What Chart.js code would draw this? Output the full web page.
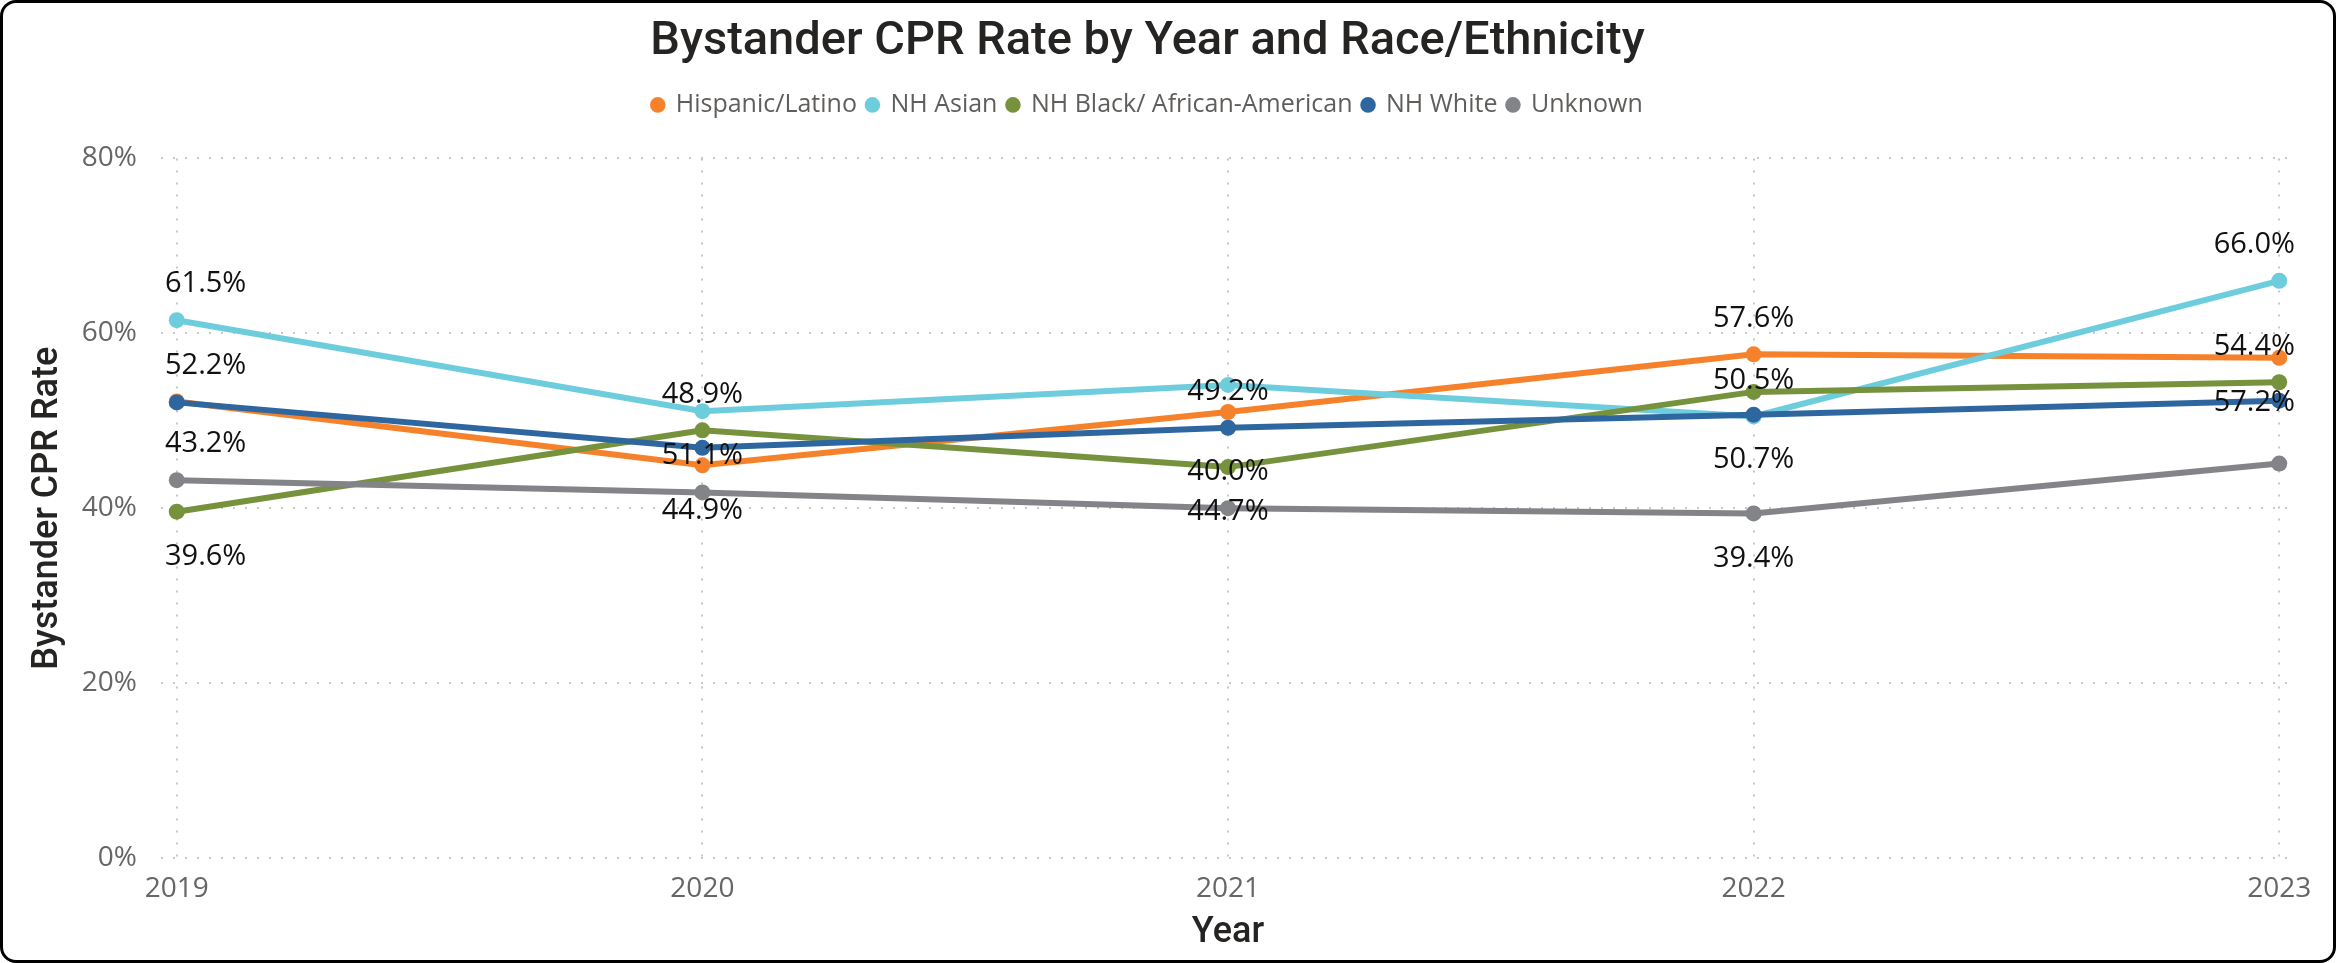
<!DOCTYPE html>
<html lang="en">
<head>
<meta charset="UTF-8">
<script src="https://cdn.jsdelivr.net/npm/chart.js@4.4.1/dist/chart.umd.min.js"></script>
<title>Bystander CPR Rate</title>
<style>
  html, body { margin: 0; padding: 0; background: #fff; }
  #cpr-chart { position: absolute; left: 0; top: 0; }
  #frame {
    position: absolute; left: 0; top: 0; width: 2336px; height: 963px;
    box-sizing: border-box; border: 3px solid #000; border-radius: 16px;
    pointer-events: none;
  }
</style>
</head>
<body>
<canvas id="cpr-chart" width="2336" height="963"></canvas>
<div id="frame"></div>

<script>
var years = [2019, 2020, 2021, 2022, 2023];
var hispanic = [52.2, 44.9, 51.0, 57.6, 57.2];
var asian = [61.5, 51.1, 54.1, 50.5, 66.0];
var black = [39.6, 48.9, 44.7, 53.3, 54.4];
var white = [52.1, 46.9, 49.2, 50.7, 52.3];
var unknown = [43.2, 41.8, 40.0, 39.4, 45.1];
var seriesNames = ["Hispanic/Latino", "NH Asian", "NH Black/ African-American", "NH White", "Unknown"];
var yTicks = [0, 20, 40, 60, 80];

var seriesValues = [hispanic, asian, black, white, unknown];
var colors = ["#f5822a", "#6ecddd", "#76923c", "#2e67a0", "#838488"];

// where the data label sits: 1 above the point, -1 below, 0 no label
var labelSide = [
  [1, -1, 0, 1, -1],
  [1, -1, 0, 1, 1],
  [-1, 1, -1, 0, 1],
  [0, 0, 1, -1, 0],
  [1, 0, 1, -1, 0]
];

var datasets = seriesValues.map(function (vals, d) {
  return {
    label: seriesNames[d],
    data: years.map(function (yr, i) { return { x: yr, y: vals[i] }; }),
    borderColor: colors[d],
    backgroundColor: colors[d],
    pointBackgroundColor: colors[d],
    pointBorderWidth: 0,
    pointRadius: 8,
    borderWidth: 6,
    order: seriesNames.length - d   // later series drawn on top
  };
});

var pointLabels = {
  id: 'pointLabels',
  afterDatasetsDraw: function (chart) {
    var ctx = chart.ctx, area = chart.chartArea;
    ctx.save();
    ctx.font = '29px "Open Sans"';
    ctx.fillStyle = '#111';
    ctx.textAlign = 'center';
    ctx.textBaseline = 'middle';
    chart.data.datasets.forEach(function (ds, d) {
      chart.getDatasetMeta(d).data.forEach(function (pt, i) {
        var side = labelSide[d][i];
        if (!side) return;
        var text = ds.data[i].y.toFixed(1) + '%';
        var w = ctx.measureText(text).width;
        var x = Math.min(Math.max(pt.x, area.left + w / 2 + 4), area.right - w / 2);
        var y = side > 0 ? pt.y - 36 : pt.y + 45;
        ctx.fillText(text, x, y);
      });
    });
    ctx.restore();
  }
};

// push the plot down below the legend
var legendSpacer = {
  id: 'legendSpacer',
  beforeInit: function (chart) {
    var fit = chart.legend.fit;
    chart.legend.fit = function () {
      fit.bind(chart.legend)();
      this.height += 31;
    };
  }
};

new Chart(document.getElementById('cpr-chart'), {
  type: 'line',
  data: { datasets: datasets },
  plugins: [pointLabels, legendSpacer],
  options: {
    responsive: false,
    animation: false,
    layout: { padding: { left: 0, right: 41, top: 0, bottom: 0 } },
    plugins: {
      title: {
        display: true,
        text: 'Bystander CPR Rate by Year and Race/Ethnicity',
        color: '#252423',
        font: { family: 'Roboto', size: 47, weight: '500' },
        padding: { top: 14, bottom: 12 }
      },
      legend: {
        position: 'top',
        labels: {
          usePointStyle: true,
          pointStyle: 'circle',
          boxWidth: 11,
          boxHeight: 11,
          padding: 10,
          color: '#605e5c',
          font: { family: 'Open Sans', size: 25 },
          sort: function (a, b) { return a.datasetIndex - b.datasetIndex; }
        }
      },
      tooltip: { enabled: false }
    },
    scales: {
      x: {
        type: 'linear',
        min: years[0] - 0.03,
        max: years[years.length - 1] + 0.03,
        afterBuildTicks: function (scale) {
          scale.ticks = years.map(function (v) { return { value: v }; });
        },
        afterFit: function (scale) { scale.height = 105; },
        grid: { color: '#c8c8c8', lineWidth: 2, drawTicks: false },
        border: { display: false, dash: [2, 10] },
        ticks: {
          color: '#666',
          padding: 14,
          font: { family: 'Open Sans', size: 28 },
          callback: function (v) { return String(v); }
        },
        title: {
          display: true,
          text: 'Year',
          color: '#252423',
          font: { family: 'Roboto', size: 36, weight: '500' },
          padding: { top: 0, bottom: 8 }
        }
      },
      y: {
        min: 0,
        max: 80,
        afterBuildTicks: function (scale) {
          scale.ticks = yTicks.map(function (v) { return { value: v }; });
        },
        afterFit: function (scale) { scale.width = 161; },
        grid: { color: '#c8c8c8', lineWidth: 2, drawTicks: false },
        border: { display: false, dash: [2, 10] },
        ticks: {
          color: '#666',
          padding: 24,
          font: { family: 'Open Sans', size: 28 },
          callback: function (v) { return v + '%'; }
        },
        title: {
          display: true,
          text: 'Bystander CPR Rate',
          color: '#252423',
          font: { family: 'Roboto', size: 36, weight: '500' },
          padding: { top: 26, bottom: 0 }
        }
      }
    }
  }
});
</script>
</body>
</html>
